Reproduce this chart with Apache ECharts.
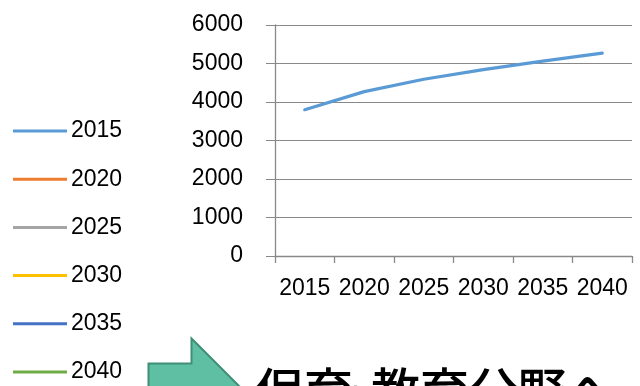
<!DOCTYPE html>
<html>
<head>
<meta charset="utf-8">
<script src="https://cdn.jsdelivr.net/npm/echarts@6/dist/echarts.min.js"></script>
<style>
  html, body { margin: 0; padding: 0; background: #ffffff; }
  #chart { width: 640px; height: 386px; }
</style>
</head>
<body>
<div id="chart"></div>
<script>
// Years on the category axis
const categories = ['2015', '2020', '2025', '2030', '2035', '2040'];
// Series names shown in the legend
const seriesNames = ['2015', '2020', '2025', '2030', '2035', '2040'];
// Values of the plotted series
const values2015 = [3800, 4270, 4590, 4840, 5060, 5270];
const values2020 = [];
const values2025 = [];
const values2030 = [];
const values2035 = [];
const values2040 = [];
// Y axis range
const yMin = 0;
const yMax = 6000;
const yStep = 1000;
// Caption beside the arrow, in three pieces so the middle dot sits tight
const captionHead = '保育';
const captionDot = '・';
const captionTail = '教育分野へ';

const seriesValues = [values2015, values2020, values2025, values2030, values2035, values2040];
const palette = ['#5B9BD5', '#ED7D31', '#A5A5A5', '#FFC000', '#4472C4', '#70AD47'];

const FONT = 'Liberation Sans';
const CJK_FONT = 'Noto Sans CJK JP';
const GRID_COLOR = '#898989';

const chart = echarts.init(document.getElementById('chart'), null, { renderer: 'canvas' });

const captionStyle = { fontFamily: CJK_FONT, fontSize: 49, fontWeight: 500, fill: '#000000' };

chart.setOption({
  animation: false,
  backgroundColor: '#ffffff',
  color: palette,
  grid: { left: 275, right: 8, top: 25, bottom: 130, containLabel: false },
  legend: {
    orient: 'vertical',
    left: 13,
    top: 119,
    height: 280,
    padding: 0,
    icon: 'rect',
    itemWidth: 54,
    itemHeight: 3,
    itemGap: 24.2,
    data: seriesNames,
    textStyle: { fontFamily: FONT, fontSize: 23, color: '#000000', lineHeight: 24, padding: [0, 0, 0, -1] }
  },
  xAxis: {
    type: 'category',
    data: categories,
    boundaryGap: true,
    axisLine: { show: true, lineStyle: { color: GRID_COLOR, width: 1.3 } },
    axisTick: { show: true, length: 7, lineStyle: { color: GRID_COLOR, width: 1.3 } },
    axisLabel: { fontFamily: FONT, fontSize: 23, color: '#000000', margin: 21, interval: 0 },
    splitLine: { show: false }
  },
  yAxis: {
    type: 'value',
    min: yMin,
    max: yMax,
    interval: yStep,
    axisLine: { show: true, lineStyle: { color: GRID_COLOR, width: 1.3 } },
    axisTick: { show: true, length: 9, lineStyle: { color: GRID_COLOR, width: 1 } },
    axisLabel: {
      fontFamily: FONT, fontSize: 23, color: '#000000', margin: 32,
      formatter: (v) => String(v)
    },
    splitLine: { show: true, lineStyle: { color: GRID_COLOR, width: 1 } }
  },
  series: seriesNames.map((name, i) => ({
    name: name,
    type: 'line',
    data: seriesValues[i],
    symbol: 'none',
    showSymbol: false,
    lineStyle: { width: 3.2, color: palette[i], cap: 'round', join: 'round' },
    itemStyle: { color: palette[i] }
  })),
  graphic: [
    {
      type: 'polygon',
      shape: {
        points: [
          [148.5, 363.5], [191.5, 363.5], [191.5, 338.5], [241.5, 388.5],
          [191.5, 438.5], [191.5, 413.5], [148.5, 413.5]
        ]
      },
      style: { fill: '#5FBFA3', stroke: '#3F8F77', lineWidth: 2 }
    },
    { type: 'text', left: 255, top: 366, style: Object.assign({ text: captionHead }, captionStyle) },
    { type: 'text', left: 331, top: 367, style: Object.assign({ text: captionDot }, captionStyle) },
    { type: 'text', left: 371, top: 366, style: Object.assign({ text: captionTail }, captionStyle) }
  ]
});
</script>
</body>
</html>
